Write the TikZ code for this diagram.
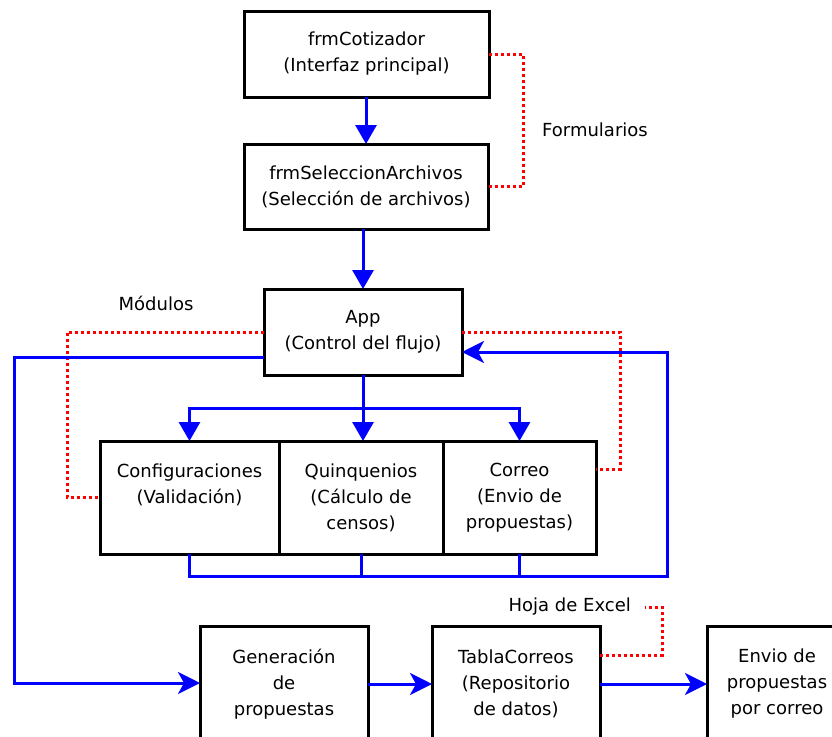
\documentclass[tikz,border=0pt]{standalone}
\usepackage{fontspec}
\setmainfont{DejaVu Sans}
\usetikzlibrary{arrows.meta}
\begin{document}
\begin{tikzpicture}[x=1pt,y=-1pt,
  box/.style={draw=black, line width=3pt, rectangle, inner sep=0pt, outer sep=0pt, align=center, font=\fontsize{18}{26}\selectfont},
  lbl/.style={font=\fontsize{18}{26}\selectfont, inner sep=0pt},
  flow/.style={draw=blue, line width=3pt},
  vtip/.style={-{Triangle[length=19pt,width=21pt]}},
  vtips/.style={{Triangle[length=19pt,width=21pt]}-{Triangle[length=19pt,width=21pt]}},
  htip/.style={-{Stealth[length=22pt,width=22pt,inset=6pt]}},
  dep/.style={draw=red, line width=3pt, dash pattern=on 3pt off 3pt}
]
\useasboundingbox (0,0) rectangle (832,736);

% boxes
\node[box, minimum width=245pt, minimum height=86pt] (cot) at (366.5,54) {frmCotizador\\(Interfaz principal)};
\node[box, minimum width=244pt, minimum height=85pt] (sel) at (366,186.5) {frmSeleccionArchivos\\(Selección de archivos)};
\node[box, minimum width=198pt, minimum height=86pt] (app) at (363,332) {App\\(Control del flujo)};
\node[box, minimum width=179pt, minimum height=113pt] (conf) at (189.5,497.5) {Configuraciones\\(Validación)\\\vphantom{()}};
\node[box, minimum width=164pt, minimum height=113pt] (quin) at (361,497.5) {Quinquenios\\(Cálculo de\\censos)};
\node[box, minimum width=153pt, minimum height=113pt] (corr) at (519.5,497.5) {Correo\\(Envio de\\propuestas)};
\node[box, minimum width=168pt, minimum height=116pt] (gen) at (284,684) {Generación\\de\\propuestas};
\node[box, minimum width=168pt, minimum height=116pt] (tab) at (516,684) {TablaCorreos\\(Repositorio\\de datos)};
\node[box, minimum width=140pt, minimum height=116pt] (env) at (777,684) {Envio de\\propuestas\\por correo};

% labels
\node[lbl] (form) at (595,130) {Formularios};
\node[lbl] (mod) at (156,303) {Módulos};
\node[lbl, anchor=east] (excel) at (631,607) {Hoja de Excel};
\coordinate (xl) at (645,607);

% red dotted dependencies
\draw[dep] (cot.east) -- ++(34,0) |- (sel.east);
\draw[dep] (app.west) -| ([xshift=-33pt]conf.west) -- (conf.west);
\draw[dep] (app.east) -| ([xshift=24pt,yshift=28.5pt]corr.east) -- ([yshift=28.5pt]corr.east);
\draw[dep] ([yshift=29pt]tab.east) -| (662,607) -- (xl);

% blue flow
\draw[flow, vtip] (cot.south -| sel.north) -- (sel.north);
\draw[flow, vtip] (app.north |- sel.south) -- (app.north);
\draw[flow, vtip] (app.south) -- (app.south |- quin.north);
\draw[flow, vtips] (conf.north) |- (app.south |- 0,408) -| (corr.north);
\draw[flow] (quin.south) -- ++(0,22);
\draw[flow] (corr.south) -- ++(0,22);
\draw[flow, htip] (conf.south) |- (667,576) -- (667,352) -- (app.east |- 0,352);
\draw[flow, htip] ([yshift=-25pt]app.west) -| (14,683) -- (gen.west |- 0,683);
\draw[flow, htip] (gen.east) -- (tab.west);
\draw[flow, htip] (tab.east) -- (env.west);
\end{tikzpicture}
\end{document}
